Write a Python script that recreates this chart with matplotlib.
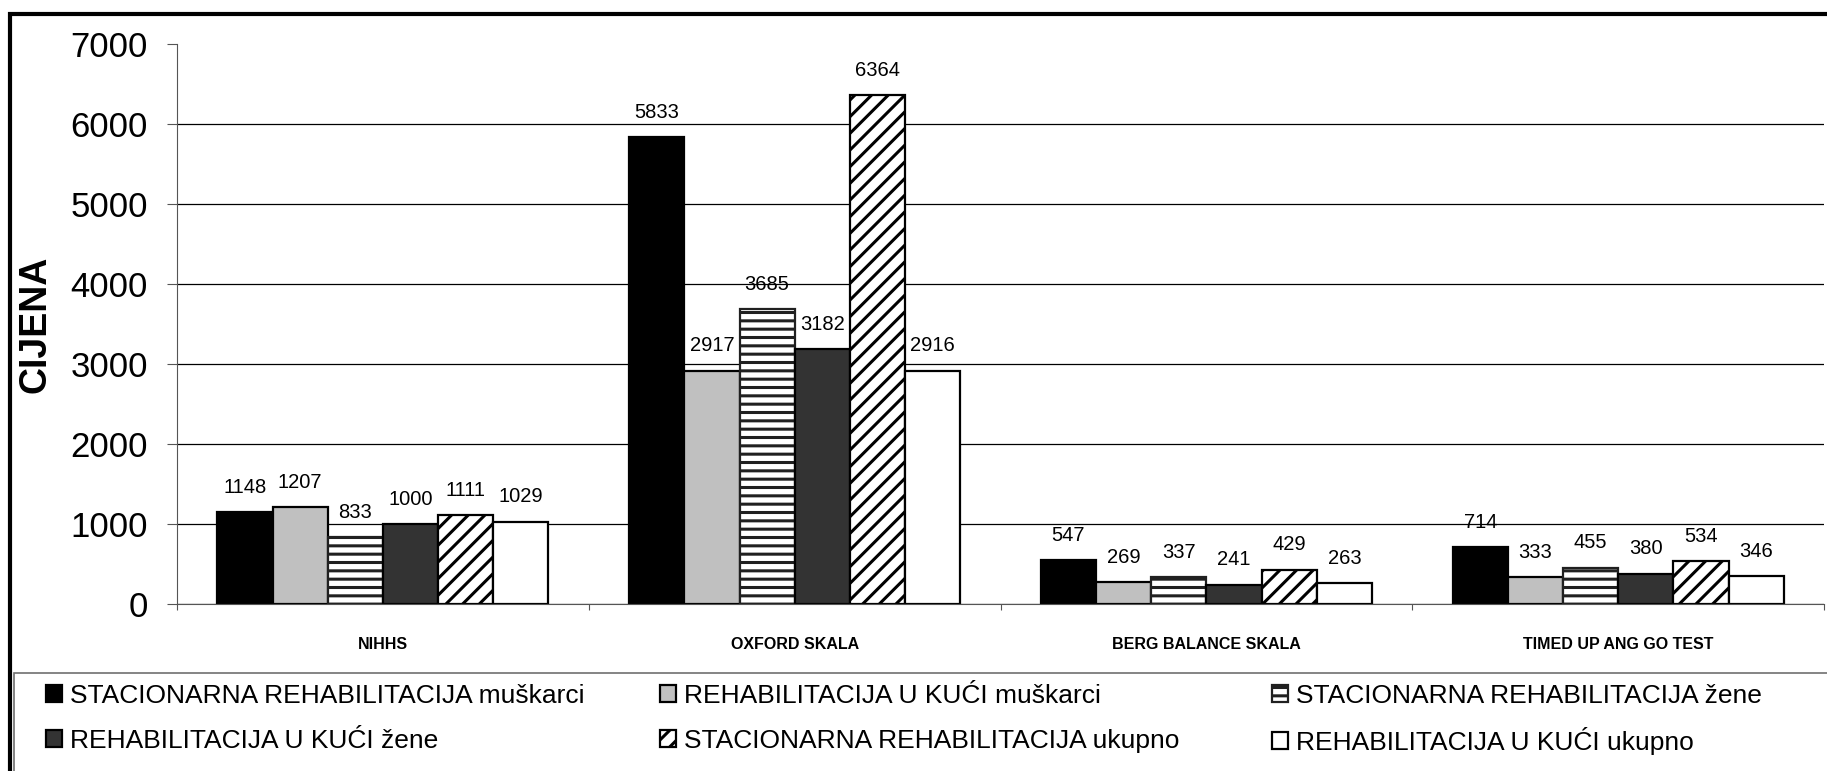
import numpy as np
import matplotlib.pyplot as plt
from matplotlib.patches import Rectangle

plt.rcParams['font.family'] = ['Liberation Sans', 'DejaVu Sans']
plt.rcParams['hatch.linewidth'] = 2.2

categories = ["NIHHS", "OXFORD SKALA", "BERG BALANCE SKALA", "TIMED UP ANG GO TEST"]
series_names = [
    "STACIONARNA REHABILITACIJA muškarci",
    "REHABILITACIJA U KUĆI muškarci",
    "STACIONARNA REHABILITACIJA žene",
    "REHABILITACIJA U KUĆI žene",
    "STACIONARNA REHABILITACIJA ukupno",
    "REHABILITACIJA U KUĆI ukupno",
]
stac_muskarci = [1148, 5833, 547, 714]
kuca_muskarci = [1207, 2917, 269, 333]
stac_zene = [833, 3685, 337, 455]
kuca_zene = [1000, 3182, 241, 380]
stac_ukupno = [1111, 6364, 429, 534]
kuca_ukupno = [1029, 2916, 263, 346]
y_ticks = [0, 1000, 2000, 3000, 4000, 5000, 6000, 7000]

values = [stac_muskarci, kuca_muskarci, stac_zene, kuca_zene, stac_ukupno, kuca_ukupno]
styles = [
    dict(color="black", edgecolor="black"),
    dict(color="#c0c0c0", edgecolor="black"),
    dict(color="white", edgecolor="#202020", hatch="--"),
    dict(color="#333333", edgecolor="black"),
    dict(color="white", edgecolor="black", hatch="//"),
    dict(color="white", edgecolor="black"),
]

fig = plt.figure(figsize=(18.27, 7.71), dpi=100)
ax = fig.add_axes([0.0969, 0.2166, 0.9015, 0.7263])

x = np.arange(len(categories))
width = 0.134
handles = []
for i, (vals, st) in enumerate(zip(values, styles)):
    pos = x - 3 * width + (i + 0.5) * width
    bars = ax.bar(pos, vals, width, linewidth=1.6, label=series_names[i], **st)
    ax.bar_label(bars, labels=[str(v) for v in vals], padding=11, fontsize=14.5)
    handles.append(bars)

ax.set_xlim(-0.5, 3.5)
ax.set_ylim(0, 7000)
ax.set_yticks(y_ticks)
ax.tick_params(axis="y", labelsize=25, length=7, width=0.8, pad=14, color="#555555")
ax.yaxis.grid(True, color="black", linewidth=0.9)
ax.get_ygridlines()[-1].set_visible(False)
ax.set_axisbelow(True)

ax.set_xticks(x)
ax.set_xticklabels(categories, fontsize=11.5, fontweight="bold")
ax.tick_params(axis="x", length=0, pad=24)
ax.set_xticks(np.arange(-0.5, 4.0, 1.0), minor=True)
ax.tick_params(axis="x", which="minor", length=4, width=0.8, color="#555555")

for side in ["top", "right"]:
    ax.spines[side].set_visible(False)
ax.spines["left"].set_color("#555555")
ax.spines["bottom"].set_color("#555555")
ax.spines["left"].set_linewidth(0.8)
ax.spines["bottom"].set_linewidth(0.8)

ax.set_ylabel("CIJENA", fontsize=27, fontweight="bold")
ax.yaxis.set_label_coords(-0.0753, 0.5)

# outer chart frame and legend box
fig.patches.append(Rectangle((10 / 1827, -0.05), 1.05, 1.05 - 14 / 771,
                             transform=fig.transFigure, fill=False,
                             edgecolor="black", linewidth=3))
fig.patches.append(Rectangle((14 / 1827, -0.05), 1.05, 0.05 + 1 - 673 / 771,
                             transform=fig.transFigure, fill=False,
                             edgecolor="#707070", linewidth=1.2))

# legend entries: three columns, two rows, each placed on its own
col_x = [46 / 1827, 660 / 1827, 1272 / 1827]
row_y = [1 - 696 / 771, 1 - 741 / 771]
for i in range(len(series_names)):
    r, c = divmod(i, 3)
    fig.legend([handles[i]], [series_names[i]], loc="center left",
               bbox_to_anchor=(col_x[c], row_y[r]), frameon=False,
               fontsize=19, handlelength=0.6, handleheight=0.6,
               handletextpad=0.3, borderpad=0, borderaxespad=0)

fig.savefig("out.png", dpi=100)
